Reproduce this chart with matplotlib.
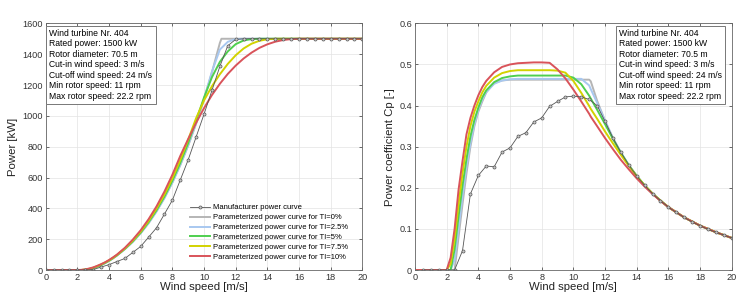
import numpy as np
import matplotlib
matplotlib.use("Agg")
import matplotlib.pyplot as plt

plt.rcParams['font.family'] = ['Liberation Sans', 'DejaVu Sans']

# manufacturer data (0.5 m/s bins)
wind_mfr = np.arange(0, 20.5, 0.5)
power_mfr = [0, 0, 0, 0, 0, 0, 3, 19, 35, 55, 75, 114, 153, 213, 274, 363, 453, 584, 715, 863,
             1011, 1165, 1321, 1455, 1496] + [1500] * 16
wind_cp_mfr = np.arange(0.5, 20.5, 0.5)
cp_mfr = [0, 0, 0, 0, 0, 0.047, 0.185, 0.230, 0.253, 0.251, 0.287, 0.297, 0.325, 0.334, 0.360,
          0.370, 0.398, 0.410, 0.421, 0.423, 0.421, 0.415, 0.400, 0.362, 0.321, 0.286, 0.255,
          0.229, 0.206, 0.186, 0.169, 0.153, 0.140, 0.128, 0.117, 0.108, 0.099, 0.092, 0.085, 0.078]

# parameterized curves
wind_fit = [0, 1, 2, 2.25, 2.5, 2.75, 3, 3.25, 3.5, 3.75, 4, 4.25, 4.5, 5, 5.5, 6, 6.5, 7, 7.5,
            8, 8.5, 9, 9.5, 10, 10.5, 11, 11.1, 11.5, 12, 12.5, 13, 13.5, 14, 14.5, 15, 15.5,
            16, 17, 18, 19, 20]

power_ti0 = [0, 0, 0, 0, 0, 4, 10, 19, 31, 44, 59, 75, 94, 136, 183, 239, 304, 380, 467, 567,
             680, 807, 949, 1107, 1282, 1473, 1500, 1500] + [1500] * 13
power_ti25 = [0, 0, 0, 0, 1, 5, 12, 21, 32, 45, 60, 76, 94, 135, 183, 240, 305, 381, 469, 569,
              683, 811, 953, 1112, 1287, 1430, 1440, 1480, 1498] + [1500] * 12
power_ti5 = [0, 0, 0, 0, 2, 6, 13, 22, 33, 46, 60, 77, 95, 137, 186, 243, 311, 388, 477, 579,
             695, 824, 970, 1119, 1251, 1350, 1364, 1418, 1465, 1489, 1498] + [1500] * 10
power_ti75 = [0, 0, 0, 0.4, 3, 8, 15, 25, 36, 49, 63, 79, 98, 140, 191, 250, 319, 399, 490, 595,
              714, 846, 985, 1100, 1192, 1270, 1283, 1337, 1393, 1437, 1468, 1487, 1497] + [1500] * 8
power_ti10 = [0, 0, 0, 1, 4, 10, 17, 27, 38, 50, 65, 82, 100, 144, 197, 258, 330, 413, 509, 618,
              740, 850, 955, 1050, 1135, 1208, 1221, 1272, 1326, 1372, 1410, 1441, 1464, 1481,
              1492, 1498] + [1500] * 5

cp_ti0 = [0, 0, 0, 0, 0, 0.08, 0.16, 0.235, 0.30, 0.35, 0.385, 0.41, 0.432, 0.455, 0.461, 0.463,
          0.463, 0.463, 0.463, 0.463, 0.463, 0.463, 0.463, 0.463, 0.463, 0.463, 0.459, 0.412,
          0.363, 0.321, 0.286, 0.255, 0.229, 0.206, 0.186, 0.169, 0.153, 0.128, 0.108, 0.092, 0.078]
cp_ti25 = [0, 0, 0, 0, 0.025, 0.10, 0.18, 0.25, 0.308, 0.355, 0.39, 0.415, 0.433, 0.453, 0.461,
           0.464, 0.465, 0.465, 0.465, 0.465, 0.465, 0.465, 0.465, 0.465, 0.465, 0.449, 0.440,
           0.407, 0.363, 0.321, 0.286, 0.255, 0.229, 0.206, 0.186, 0.169, 0.153, 0.128, 0.108,
           0.092, 0.078]
cp_ti5 = [0, 0, 0, 0, 0.05, 0.13, 0.205, 0.27, 0.325, 0.365, 0.395, 0.42, 0.437, 0.457, 0.467,
          0.471, 0.473, 0.473, 0.473, 0.473, 0.473, 0.473, 0.473, 0.468, 0.452, 0.424, 0.417,
          0.390, 0.355, 0.319, 0.285, 0.255, 0.229, 0.206, 0.186, 0.169, 0.153, 0.128, 0.108,
          0.092, 0.078]
cp_ti75 = [0, 0, 0, 0.015, 0.075, 0.16, 0.235, 0.30, 0.35, 0.385, 0.41, 0.432, 0.448, 0.468, 0.479,
           0.484, 0.486, 0.486, 0.486, 0.486, 0.486, 0.485, 0.480, 0.460, 0.431, 0.399, 0.392,
           0.368, 0.337, 0.308, 0.280, 0.253, 0.228, 0.206, 0.186, 0.169, 0.153, 0.128, 0.108,
           0.092, 0.078]
cp_ti10 = [0, 0, 0, 0.03, 0.10, 0.195, 0.265, 0.33, 0.37, 0.40, 0.425, 0.445, 0.46, 0.481, 0.494,
           0.500, 0.503, 0.504, 0.505, 0.505, 0.504, 0.488, 0.466, 0.439, 0.410, 0.380, 0.373,
           0.350, 0.321, 0.294, 0.268, 0.245, 0.223, 0.203, 0.185, 0.168, 0.153, 0.128, 0.108,
           0.092, 0.078]

ti_labels = ["0%", "2.5%", "5%", "7.5%", "10%"]
ti_colors = ["#b5b5b5", "#a8c8f0", "#4fcf4f", "#d2d200", "#d9535a"]
power_fit = [power_ti0, power_ti25, power_ti5, power_ti75, power_ti10]
cp_fit = [cp_ti0, cp_ti25, cp_ti5, cp_ti75, cp_ti10]

info = ("Wind turbine Nr. 404\nRated power: 1500 kW\nRotor diameter: 70.5 m\n"
        "Cut-in wind speed: 3 m/s\nCut-off wind speed: 24 m/s\n"
        "Min rotor speed: 11 rpm\nMax rotor speed: 22.2 rpm")

fig = plt.figure(figsize=(7.54, 3.04), dpi=100)
ax1 = fig.add_axes([0.0606, 0.1118, 0.42, 0.8114])
ax2 = fig.add_axes([0.5504, 0.1118, 0.42, 0.8114])


def style(ax):
    ax.set_xlim(0, 20)
    ax.set_xticks(range(0, 21, 2))
    ax.grid(True, color="#e3e3e3", lw=0.5)
    ax.set_axisbelow(True)
    ax.tick_params(direction="in", top=True, right=True, length=2.5, width=0.5,
                   labelsize=6.6, colors="#333333", pad=2)
    for s in ax.spines.values():
        s.set_color("#666666")
        s.set_linewidth(0.6)
    ax.set_xlabel("Wind speed [m/s]", fontsize=8.2, labelpad=0.5, color="#222222")


mfr_style = dict(color="#555555", lw=0.6, marker="o", ms=2.2, mfc="#c8c8c8", mec="#555555", mew=0.5)

# power panel
handles = []
for vals, lab, col in zip(power_fit, ti_labels, ti_colors):
    h, = ax1.plot(wind_fit, vals, color=col, lw=1.4,
                  label=f"Parameterized power curve for TI={lab}")
    handles.append(h)
hm, = ax1.plot(wind_mfr, power_mfr, label="Manufacturer power curve", **mfr_style)
style(ax1)
ax1.set_ylim(0, 1600)
ax1.set_yticks(range(0, 1601, 200))
ax1.set_ylabel("Power [kW]", fontsize=8.2, labelpad=3, color="#222222")
ax1.text(0.012, 0.978, info, transform=ax1.transAxes, fontsize=6.2, va="top", ha="left",
         linespacing=1.22, bbox=dict(boxstyle="square,pad=0.35", fc="white", ec="#777777", lw=0.7))
ax1.legend([hm] + handles, [hm.get_label()] + [h.get_label() for h in handles],
           loc="lower right", bbox_to_anchor=(0.965, 0.025), frameon=False, fontsize=5.5,
           handlelength=2.6, handletextpad=0.4, labelspacing=0.33, borderaxespad=0)

# Cp panel
for vals, col in zip(cp_fit, ti_colors):
    ax2.plot(wind_fit, vals, color=col, lw=1.4)
ax2.plot(wind_cp_mfr, cp_mfr, **mfr_style)
style(ax2)
ax2.set_ylim(0, 0.6)
ax2.set_yticks(np.arange(0, 0.61, 0.1))
ax2.set_yticklabels(["0", "0.1", "0.2", "0.3", "0.4", "0.5", "0.6"])
ax2.set_ylabel("Power coefficient Cp [-]", fontsize=8.2, labelpad=3, color="#222222")
ax2.text(0.645, 0.978, info, transform=ax2.transAxes, fontsize=6.2, va="top", ha="left",
         linespacing=1.22, bbox=dict(boxstyle="square,pad=0.35", fc="white", ec="#777777", lw=0.7))

fig.savefig("out.png", dpi=100)
